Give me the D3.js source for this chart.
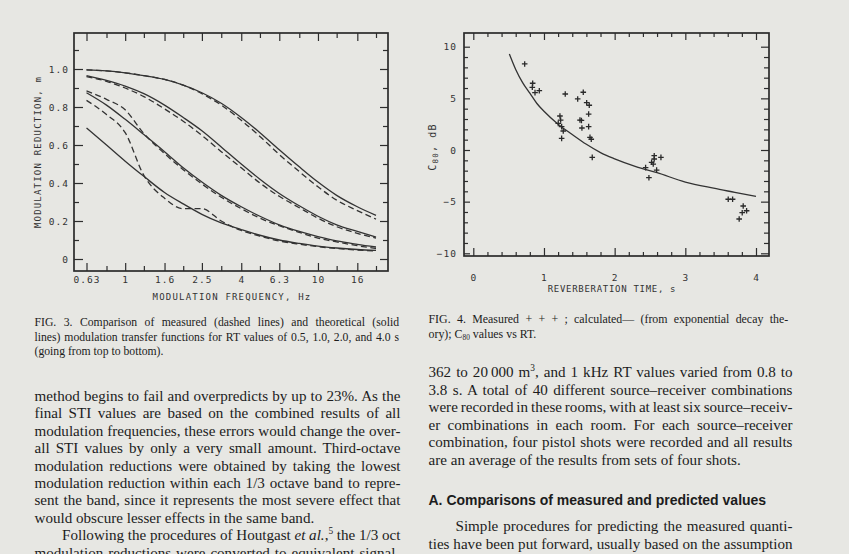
<!DOCTYPE html>
<html lang="en">
<head>
<meta charset="utf-8">
<title>Fig. 3 and Fig. 4</title>
<style>
  html, body { margin: 0; padding: 0; background: #e7e7e3; }
  svg { display: block; }
  .ax text { font-family: "DejaVu Sans Mono", monospace; font-size: 9.5px; fill: #333; letter-spacing: 1px; }
  .ax line { stroke: #2e2e2e; stroke-width: 1.2px; }
  .ax path.domain { display: none; }
  .frame { fill: none; stroke: #2b2b2b; stroke-width: 1.7px; }
  .mtf { fill: none; stroke: #333; stroke-width: 1.3px; }
  .mtf.measured { stroke-dasharray: 6, 3.5; }
  .title { font-family: "DejaVu Sans Mono", monospace; font-size: 9px; fill: #333; letter-spacing: 1.2px; }
  .page text { font-family: "Liberation Serif", "Times New Roman", serif; fill: #1c1c1c; }
</style>
</head>
<body>
<svg id="page" width="849" height="554"></svg>
<script src="https://cdn.jsdelivr.net/npm/d3@7"></script>
<script>
// ---- Fig. 3 data: modulation reduction m vs modulation frequency (1/3 octave) ----
var freqs = [0.63, 0.8, 1, 1.25, 1.6, 2, 2.5, 3.15, 4, 5, 6.3, 8, 10, 12.5, 16, 20];
var freqMajor = [0.63, 1, 1.6, 2.5, 4, 6.3, 10, 16];
var freqTickLabels = ["0.63", "1", "1.6", "2.5", "4", "6.3", "10", "16"];
var mTicks = [0, 0.2, 0.4, 0.6, 0.8, 1.0];
var mMinor = [0.1, 0.3, 0.5, 0.7, 0.9, 1.1];

// theoretical (solid) and measured (dashed), RT = 0.5, 1.0, 2.0, 4.0 s
var theory05 = [0.995, 0.99, 0.98, 0.965, 0.945, 0.915, 0.875, 0.82, 0.745, 0.665, 0.575, 0.485, 0.405, 0.335, 0.275, 0.23];
var measured05 = [0.995, 0.99, 0.98, 0.965, 0.945, 0.915, 0.87, 0.81, 0.73, 0.645, 0.55, 0.46, 0.38, 0.31, 0.255, 0.21];
var theory10 = [0.965, 0.94, 0.91, 0.87, 0.81, 0.745, 0.675, 0.59, 0.5, 0.42, 0.345, 0.28, 0.225, 0.18, 0.145, 0.115];
var measured10 = [0.96, 0.935, 0.9, 0.855, 0.79, 0.725, 0.65, 0.565, 0.48, 0.4, 0.33, 0.27, 0.215, 0.17, 0.135, 0.11];
var theory20 = [0.875, 0.81, 0.735, 0.655, 0.565, 0.48, 0.405, 0.335, 0.275, 0.225, 0.18, 0.145, 0.118, 0.095, 0.077, 0.063];
var measured20 = [0.885, 0.84, 0.785, 0.66, 0.555, 0.47, 0.395, 0.325, 0.265, 0.215, 0.175, 0.14, 0.11, 0.09, 0.07, 0.055];
var theory40 = [0.69, 0.6, 0.515, 0.435, 0.35, 0.29, 0.235, 0.19, 0.155, 0.125, 0.1, 0.082, 0.068, 0.058, 0.05, 0.045];
var measured40 = [0.835, 0.76, 0.665, 0.44, 0.32, 0.265, 0.265, 0.2, 0.15, 0.12, 0.095, 0.078, 0.065, 0.055, 0.047, 0.042];

// ---- Fig. 4 data: C80 vs reverberation time ----
var rtMeasured = [0.727, 0.840, 0.835, 0.873, 0.934, 1.301, 1.556, 1.477, 1.604, 1.641, 1.632, 1.509, 1.530, 1.537, 1.632,
  1.226, 1.236, 1.202, 1.250, 1.273, 1.250, 1.651, 1.669, 1.683,
  2.560, 2.560, 2.655, 2.523, 2.546, 2.438, 2.594, 2.485,
  3.607, 3.669, 3.819, 3.867, 3.805, 3.762];
var c80Measured = [8.33, 6.46, 6.07, 5.55, 5.74, 5.42, 5.59, 4.94, 4.58, 4.33, 3.48, 2.90, 2.86, 2.13, 2.26,
  3.29, 2.90, 2.58, 2.26, 1.84, 1.13, 1.23, 1.04, -0.71,
  -0.55, -0.87, -0.71, -1.19, -1.36, -1.71, -1.94, -2.68,
  -4.77, -4.77, -5.42, -5.88, -6.07, -6.68];
var rtCalc = [0.51, 0.6, 0.7, 0.8, 0.9, 1.0, 1.2, 1.4, 1.6, 1.8, 2.0, 2.3, 2.6, 3.0, 3.4, 3.7, 4.0];
var c80Calc = [9.3, 7.8, 6.5, 5.5, 4.5, 3.75, 2.5, 1.5, 0.55, -0.25, -0.85, -1.6, -2.2, -3.1, -3.7, -4.1, -4.5];
var rtTicks = [0, 1, 2, 3, 4];
var rtMinor = [0.2, 0.4, 0.6, 0.8, 1.2, 1.4, 1.6, 1.8, 2.2, 2.4, 2.6, 2.8, 3.2, 3.4, 3.6, 3.8];
var c80Ticks = [-10, -5, 0, 5, 10];
var c80Minor = [-9, -8, -7, -6, -4, -3, -2, -1, 1, 2, 3, 4, 6, 7, 8, 9];

// ---- page text ----
var fig3Caption = [
  "FIG. 3. Comparison of measured (dashed lines) and theoretical (solid",
  "lines) modulation transfer functions for RT values of 0.5, 1.0, 2.0, and 4.0 s",
  "(going from top to bottom)."
];
var leftBody = [
  "method begins to fail and overpredicts by up to 23%. As the",
  "final STI values are based on the combined results of all",
  "modulation frequencies, these errors would change the over-",
  "all STI values by only a very small amount. Third-octave",
  "modulation reductions were obtained by taking the lowest",
  "modulation reduction within each 1/3 octave band to repre-",
  "sent the band, since it represents the most severe effect that",
  "would obscure lesser effects in the same band.",
  "Following the procedures of Houtgast *et al.*,^5^ the 1/3 oct",
  "modulation reductions were converted to equivalent signal-"
];
var fig4Caption = [
  "FIG. 4. Measured  + + + ; calculated\u2014 (from exponential decay the-",
  "ory); C_80_ values vs RT."
];
var rightBody = [
  "362 to 20\u2009000 m^3^, and 1 kHz RT values varied from 0.8 to",
  "3.8 s. A total of 40 different source\u2013receiver combinations",
  "were recorded in these rooms, with at least six source\u2013receiv-",
  "er combinations in each room. For each source\u2013receiver",
  "combination, four pistol shots were recorded and all results",
  "are an average of the results from sets of four shots."
];
var rightBody2 = [
  "Simple procedures for predicting the measured quanti-",
  "ties have been put forward, usually based on the assumption"
];

var svg = d3.select("#page");
var page = svg.append("g").attr("class", "page");

// ================= Fig. 3 =================
var f3 = { left: 74, right: 388, top: 33, bottom: 271 };
var x3 = d3.scaleLog().domain([0.63, 20]).range([86.5, 376]);
var y3 = d3.scaleLinear().domain([0, 1]).range([259, 69]);
var g3 = svg.append("g");

function fmtM(d) { return d === 0 ? "0" : d3.format(".1f")(d); }
function fmtF(d) { return freqTickLabels[freqMajor.indexOf(d)]; }
var freqMinor = freqs.filter(function (f) { return freqMajor.indexOf(f) < 0; });

g3.append("g").attr("class", "ax").attr("transform", "translate(0," + f3.bottom + ")")
  .call(d3.axisBottom(x3).tickValues(freqMajor).tickFormat(fmtF).tickSizeInner(-8).tickSizeOuter(0).tickPadding(5));
g3.append("g").attr("class", "ax").attr("transform", "translate(0," + f3.bottom + ")")
  .call(d3.axisBottom(x3).tickValues(freqMinor).tickFormat("").tickSizeInner(-5).tickSizeOuter(0));
g3.append("g").attr("class", "ax").attr("transform", "translate(0," + f3.top + ")")
  .call(d3.axisTop(x3).tickValues(freqMajor).tickFormat("").tickSizeInner(-8).tickSizeOuter(0));
g3.append("g").attr("class", "ax").attr("transform", "translate(0," + f3.top + ")")
  .call(d3.axisTop(x3).tickValues(freqMinor).tickFormat("").tickSizeInner(-5).tickSizeOuter(0));
g3.append("g").attr("class", "ax").attr("transform", "translate(" + f3.left + ",0)")
  .call(d3.axisLeft(y3).tickValues(mTicks).tickFormat(fmtM).tickSizeInner(-9).tickSizeOuter(0).tickPadding(5));
g3.append("g").attr("class", "ax").attr("transform", "translate(" + f3.left + ",0)")
  .call(d3.axisLeft(y3).tickValues(mMinor).tickFormat("").tickSizeInner(-5).tickSizeOuter(0));
g3.append("g").attr("class", "ax").attr("transform", "translate(" + f3.right + ",0)")
  .call(d3.axisRight(y3).tickValues(mTicks).tickFormat("").tickSizeInner(-8).tickSizeOuter(0));
g3.append("g").attr("class", "ax").attr("transform", "translate(" + f3.right + ",0)")
  .call(d3.axisRight(y3).tickValues(mMinor).tickFormat("").tickSizeInner(-5).tickSizeOuter(0));

var line3 = d3.line()
  .x(function (d, i) { return x3(freqs[i]); })
  .y(function (d) { return y3(d); })
  .curve(d3.curveMonotoneX);

var mtfSeries = [
  { values: theory05, measured: false }, { values: measured05, measured: true },
  { values: theory10, measured: false }, { values: measured10, measured: true },
  { values: theory20, measured: false }, { values: measured20, measured: true },
  { values: theory40, measured: false }, { values: measured40, measured: true }
];
g3.selectAll("path.mtf").data(mtfSeries).enter().append("path")
  .attr("class", function (d) { return d.measured ? "mtf measured" : "mtf"; })
  .attr("d", function (d) { return line3(d.values); });

g3.append("rect").attr("class", "frame")
  .attr("x", f3.left).attr("y", f3.top)
  .attr("width", f3.right - f3.left).attr("height", f3.bottom - f3.top);

g3.append("text").attr("class", "title")
  .attr("transform", "translate(38," + (f3.top + f3.bottom) / 2 + ") rotate(-90)")
  .attr("text-anchor", "middle").attr("dominant-baseline", "central")
  .text("MODULATION REDUCTION, m");
g3.append("text").attr("class", "title")
  .attr("x", 232).attr("y", 300).attr("text-anchor", "middle")
  .text("MODULATION FREQUENCY, Hz");

// ================= Fig. 4 =================
var f4 = { left: 464, right: 769, top: 33, bottom: 256 };
var x4 = d3.scaleLinear().domain([0, 4]).range([473.3, 756]);
var y4 = d3.scaleLinear().domain([-10, 10]).range([253.3, 46.7]);
var g4 = svg.append("g");

g4.append("g").attr("class", "ax").attr("transform", "translate(0," + f4.bottom + ")")
  .call(d3.axisBottom(x4).tickValues(rtTicks).tickFormat(d3.format("d")).tickSizeInner(-8).tickSizeOuter(0).tickPadding(18));
g4.append("g").attr("class", "ax").attr("transform", "translate(0," + f4.bottom + ")")
  .call(d3.axisBottom(x4).tickValues(rtMinor).tickFormat("").tickSizeInner(-4).tickSizeOuter(0));
g4.append("g").attr("class", "ax").attr("transform", "translate(0," + f4.top + ")")
  .call(d3.axisTop(x4).tickValues(rtTicks).tickFormat("").tickSizeInner(-7).tickSizeOuter(0));
g4.append("g").attr("class", "ax").attr("transform", "translate(0," + f4.top + ")")
  .call(d3.axisTop(x4).tickValues(rtMinor).tickFormat("").tickSizeInner(-4).tickSizeOuter(0));
g4.append("g").attr("class", "ax").attr("transform", "translate(" + f4.left + ",0)")
  .call(d3.axisLeft(y4).tickValues(c80Ticks).tickFormat(d3.format("d")).tickSizeInner(-6).tickSizeOuter(0).tickPadding(7));
g4.append("g").attr("class", "ax").attr("transform", "translate(" + f4.left + ",0)")
  .call(d3.axisLeft(y4).tickValues(c80Minor).tickFormat("").tickSizeInner(-4).tickSizeOuter(0));
g4.append("g").attr("class", "ax").attr("transform", "translate(" + f4.right + ",0)")
  .call(d3.axisRight(y4).tickValues(c80Ticks).tickFormat("").tickSizeInner(-8).tickSizeOuter(0));
g4.append("g").attr("class", "ax").attr("transform", "translate(" + f4.right + ",0)")
  .call(d3.axisRight(y4).tickValues(c80Minor).tickFormat("").tickSizeInner(-5).tickSizeOuter(0));

var line4 = d3.line()
  .x(function (d, i) { return x4(rtCalc[i]); })
  .y(function (d) { return y4(d); })
  .curve(d3.curveMonotoneX);
g4.append("path").attr("class", "mtf").attr("d", line4(c80Calc));

g4.selectAll("path.plus").data(c80Measured).enter().append("path")
  .attr("class", "plus")
  .attr("transform", function (d, i) { return "translate(" + x4(rtMeasured[i]) + "," + y4(d) + ")"; })
  .attr("d", "M-2.8,0H2.8M0,-2.8V2.8")
  .attr("stroke", "#2a2a2a").attr("stroke-width", 1.3);

g4.append("rect").attr("class", "frame")
  .attr("x", f4.left).attr("y", f4.top)
  .attr("width", f4.right - f4.left).attr("height", f4.bottom - f4.top);

var yt = g4.append("text").attr("class", "title")
  .attr("transform", "translate(432,147) rotate(-90)")
  .attr("text-anchor", "middle").attr("dominant-baseline", "central")
  .style("font-size", "10px");
yt.append("tspan").text("C");
yt.append("tspan").attr("dy", 3).style("font-size", "7.5px").text("80");
yt.append("tspan").attr("dy", -3).text(", dB");
g4.append("text").attr("class", "title")
  .attr("x", 612).attr("y", 291.5).attr("text-anchor", "middle")
  .style("letter-spacing", "0.7px")
  .text("REVERBERATION TIME, s");

// ================= page text =================
function richLine(x, y, str, size, width, extra) {
  var t = page.append("text").attr("x", x).attr("y", y).style("font-size", size + "px");
  if (extra) extra(t);
  var parts = str.split(/(\*[^*]+\*|\^[^^]+\^|_[^_]+_)/);
  var shift = 0;
  parts.forEach(function (p) {
    if (!p) return;
    var s = t.append("tspan");
    var body = p, dy = 0, small = false;
    if (p[0] === "*") { body = p.slice(1, -1); s.style("font-style", "italic"); }
    else if (p[0] === "^") { body = p.slice(1, -1); dy = -0.38 * size; small = true; }
    else if (p[0] === "_") { body = p.slice(1, -1); dy = 0.22 * size; small = true; }
    if (small) s.style("font-size", (size * 0.62) + "px");
    if (dy - shift !== 0) s.attr("dy", dy - shift);
    shift = dy;
    s.text(body);
  });
  if (width) {
    var natural = t.node().getComputedTextLength();
    var plain = str.replace(/[*^_]/g, "");
    var spaces = (plain.match(/ /g) || []).length;
    if (spaces > 0) t.style("word-spacing", ((width - natural) / spaces) + "px");
  }
  return t;
}

fig3Caption.forEach(function (s, i) {
  richLine(34.5, 326 + i * 14.6, s, 11.7, i < 2 ? 364.5 : 0);
});
leftBody.forEach(function (s, i) {
  var indent = i === 8 ? 27.5 : 0;
  var just = i === 7 ? 0 : 366 - indent;
  richLine(34.5 + indent, 401 + i * 17.4, s, 15.1, just);
});
fig4Caption.forEach(function (s, i) {
  richLine(428.5, 323 + i * 14.6, s, 11.9, i < 1 ? 363 : 0);
});
rightBody.forEach(function (s, i) {
  richLine(428.5, 377 + i * 17.6, s, 15.1, i < 5 ? 364 : 0);
});
richLine(428.5, 505, "A. Comparisons of measured and predicted values", 14, 0, function (t) {
  t.style("font-family", "'Liberation Sans', Arial, sans-serif").style("font-weight", "bold");
});
rightBody2.forEach(function (s, i) {
  var indent = i === 0 ? 27 : 0;
  richLine(428.5 + indent, 531 + i * 18, s, 15.1, 364 - indent);
});
</script>
</body>
</html>
